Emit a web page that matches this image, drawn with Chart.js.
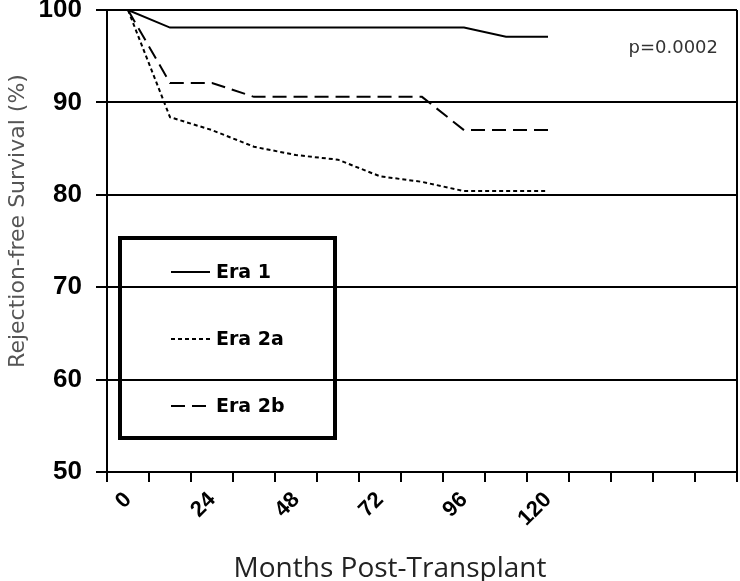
<!DOCTYPE html>
<html>
<head>
<meta charset="utf-8">
<script src="https://cdn.jsdelivr.net/npm/chart.js@4/dist/chart.umd.min.js"></script>
<style>
  html, body { margin: 0; padding: 0; background: #fff; }
  #wrap { width: 740px; height: 581px; }
</style>
</head>
<body>
<div id="wrap"><canvas id="chart" width="740" height="581"></canvas></div>
<script>
// months post-transplant (category axis, one every 12 months)
const months = [0, 12, 24, 36, 48, 60, 72, 84, 96, 108, 120, 132, 144, 156, 168];
const tickLabels = ['0', '', '24', '', '48', '', '72', '', '96', '', '120', '', '', '', ''];
const yTicks = [50, 60, 70, 80, 90, 100];

// rejection-free survival (%)
const era1 = [100, 98.1, 98.1, 98.1, 98.1, 98.1, 98.1, 98.1, 98.1, 97.1, 97.1];
const era2a = [100, 88.4, 87.0, 85.2, 84.3, 83.8, 82.0, 81.4, 80.4, 80.4, 80.4];
const era2b = [100, 92.1, 92.1, 90.6, 90.6, 90.6, 90.6, 90.6, 87.0, 87.0, 87.0];

const seriesNames = ['Era 1', 'Era 2a', 'Era 2b'];
const pValue = 'p=0.0002';

const dashes = [[], [4, 3], [14, 7]];

// frame, titles, p-value and the boxed legend inside the plot
const extrasPlugin = {
  id: 'extras',
  afterDraw(chart) {
    const ctx = chart.ctx;
    const a = chart.chartArea;
    ctx.save();

    // right border of the plot
    ctx.strokeStyle = '#000';
    ctx.lineWidth = 2;
    ctx.beginPath();
    ctx.moveTo(a.right, a.top);
    ctx.lineTo(a.right, a.bottom);
    ctx.stroke();

    // p value
    ctx.fillStyle = '#333';
    ctx.font = '18px "DejaVu Sans"';
    ctx.textAlign = 'right';
    ctx.textBaseline = 'alphabetic';
    ctx.fillText(pValue, 718, 53);

    // axis titles
    ctx.fillStyle = '#222';
    ctx.font = '28px "Open Sans"';
    ctx.textAlign = 'center';
    ctx.fillText('Months Post-Transplant', 390, 577);

    ctx.save();
    ctx.translate(24, 221);
    ctx.rotate(-Math.PI / 2);
    ctx.fillStyle = '#555';
    ctx.font = '22px "DejaVu Sans"';
    ctx.fillText('Rejection-free Survival (%)', 0, 0);
    ctx.restore();

    // legend box
    ctx.lineWidth = 4;
    ctx.strokeRect(120, 238, 215, 200);
    ctx.font = 'bold 19px "DejaVu Sans"';
    ctx.textAlign = 'left';
    ctx.textBaseline = 'middle';
    chart.data.datasets.forEach((ds, i) => {
      const y = 272 + i * 67;
      ctx.setLineDash(dashes[i]);
      ctx.lineWidth = 2;
      ctx.strokeStyle = '#000';
      ctx.beginPath();
      ctx.moveTo(171, y);
      ctx.lineTo(210, y);
      ctx.stroke();
      ctx.setLineDash([]);
      ctx.fillStyle = '#000';
      ctx.fillText(ds.label, 216, y + 1);
    });
    ctx.restore();
  }
};

function makeSet(label, data, i) {
  return {
    label: label,
    data: data,
    borderColor: '#000',
    borderWidth: 2,
    borderDash: dashes[i],
    pointRadius: 0,
    tension: 0,
    fill: false
  };
}

new Chart(document.getElementById('chart').getContext('2d'), {
  type: 'line',
  data: {
    labels: months,
    datasets: [
      makeSet(seriesNames[0], era1, 0),
      makeSet(seriesNames[1], era2a, 1),
      makeSet(seriesNames[2], era2b, 2)
    ]
  },
  options: {
    responsive: false,
    animation: false,
    layout: { padding: { left: 0, top: 0, right: 3, bottom: 0 } },
    plugins: {
      legend: { display: false },
      tooltip: { enabled: false }
    },
    scales: {
      x: {
        type: 'category',
        offset: true,
        afterFit: s => { s.height = 109; },
        grid: { drawOnChartArea: false, drawTicks: true, tickLength: 10, color: '#000', lineWidth: 2, offset: true },
        border: { color: '#000', width: 2 },
        ticks: {
          autoSkip: false,
          maxRotation: 45,
          minRotation: 45,
          padding: 5,
          color: '#000',
          font: { family: 'Liberation Sans', weight: 'bold', size: 22 },
          callback: (v, i) => tickLabels[i]
        }
      },
      y: {
        min: yTicks[0],
        max: yTicks[yTicks.length - 1],
        afterFit: s => { s.width = 107; s.paddingTop = 10; s.paddingBottom = 0; },
        afterBuildTicks: s => { s.ticks = yTicks.map(v => ({ value: v })); },
        grid: { color: '#000', lineWidth: 2, tickLength: 11 },
        border: { color: '#000', width: 2 },
        ticks: {
          padding: 14,
          color: '#000',
          font: { family: 'Liberation Sans', weight: 'bold', size: 26 }
        }
      }
    }
  },
  plugins: [extrasPlugin]
});
</script>
</body>
</html>
